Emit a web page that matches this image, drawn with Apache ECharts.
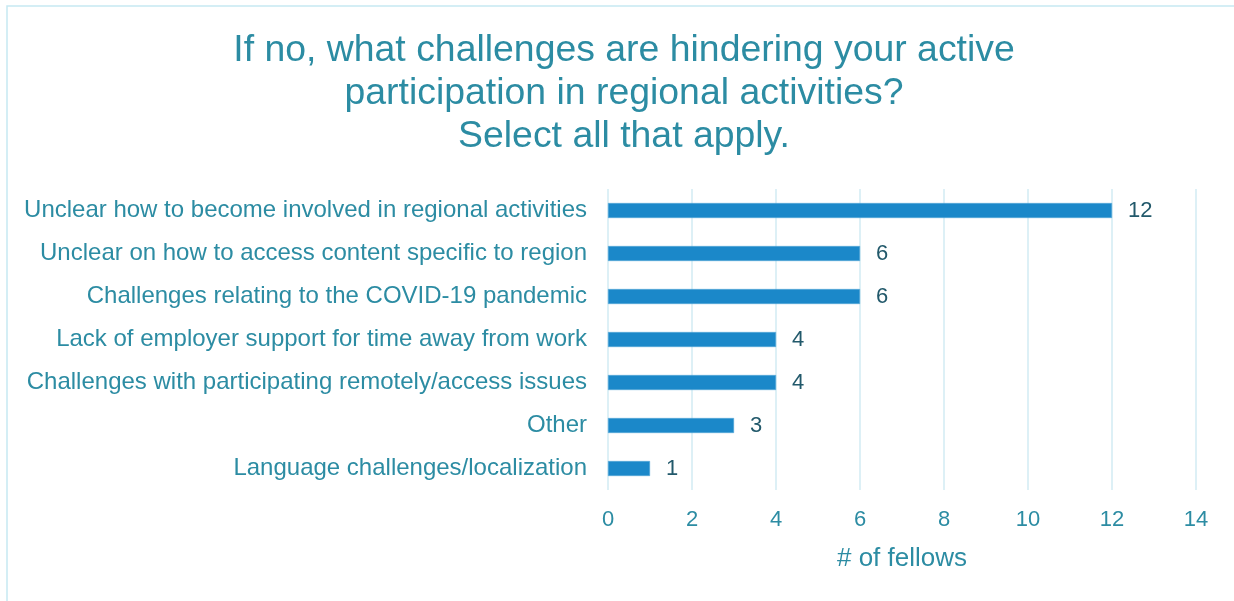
<!DOCTYPE html>
<html>
<head>
<meta charset="utf-8">
<script src="https://cdn.jsdelivr.net/npm/echarts@6/dist/echarts.min.js"></script>
<style>
  html, body { margin: 0; padding: 0; background: #fff; }
  #chart { width: 1234px; height: 601px; }
</style>
</head>
<body>
<div id="chart"></div>
<script>
// ===== 数据 =====
var categories = [
  'Unclear how to become involved in regional activities',
  'Unclear on how to access content specific to region',
  'Challenges relating to the COVID-19 pandemic',
  'Lack of employer support for time away from work',
  'Challenges with participating remotely/access issues',
  'Other',
  'Language challenges/localization'
];
var counts = [12, 6, 6, 4, 4, 3, 1];
var titleLines = [
  'If no, what challenges are hindering your active',
  'participation in regional activities?',
  'Select all that apply.'
];

var FONT = '"Liberation Sans", Arial, sans-serif';
var TEAL = '#2c8ca3';

var chart = echarts.init(document.getElementById('chart'));

var option = {
  backgroundColor: '#fff',
  animation: false,
  graphic: [
    // 外框
    {
      type: 'rect',
      shape: { x: 7, y: 6, width: 1240, height: 610 },
      style: { fill: 'none', stroke: '#c6e9f2', lineWidth: 1.5 },
      silent: true
    }
  ],
  title: {
    text: titleLines.join('\n'),
    left: 619,
    top: 24,
    textAlign: 'center',
    textStyle: {
      fontFamily: FONT,
      fontSize: 37.4,
      fontWeight: 'normal',
      color: TEAL,
      lineHeight: 43
    }
  },
  grid: {
    left: 608,
    right: 38,
    top: 189,
    bottom: 111,
    containLabel: false
  },
  xAxis: {
    type: 'value',
    min: 0,
    max: 14,
    interval: 2,
    name: '# of fellows',
    nameLocation: 'middle',
    nameGap: 56,
    nameTextStyle: { fontFamily: FONT, fontSize: 26, color: TEAL },
    axisLine: { show: false },
    axisTick: { show: false },
    axisLabel: { fontFamily: FONT, fontSize: 22, color: TEAL, margin: 19 },
    splitLine: { show: true, lineStyle: { color: '#d2ebf3', width: 1.5 } }
  },
  yAxis: {
    type: 'category',
    data: categories,
    inverse: true,
    axisLine: { show: false },
    axisTick: { show: false },
    axisLabel: { fontFamily: FONT, fontSize: 24, color: TEAL, margin: 21 }
  },
  series: [
    {
      type: 'bar',
      data: counts,
      barWidth: 15,
      itemStyle: { color: '#1b88c9', borderColor: '#5aa9d8', borderWidth: 0.5 },
      label: {
        show: true,
        position: 'right',
        distance: 16,
        fontFamily: FONT,
        fontSize: 22,
        color: '#22596b'
      }
    }
  ]
};

chart.setOption(option);
window.addEventListener('resize', function() { chart.resize(); });
</script>
</body>
</html>
